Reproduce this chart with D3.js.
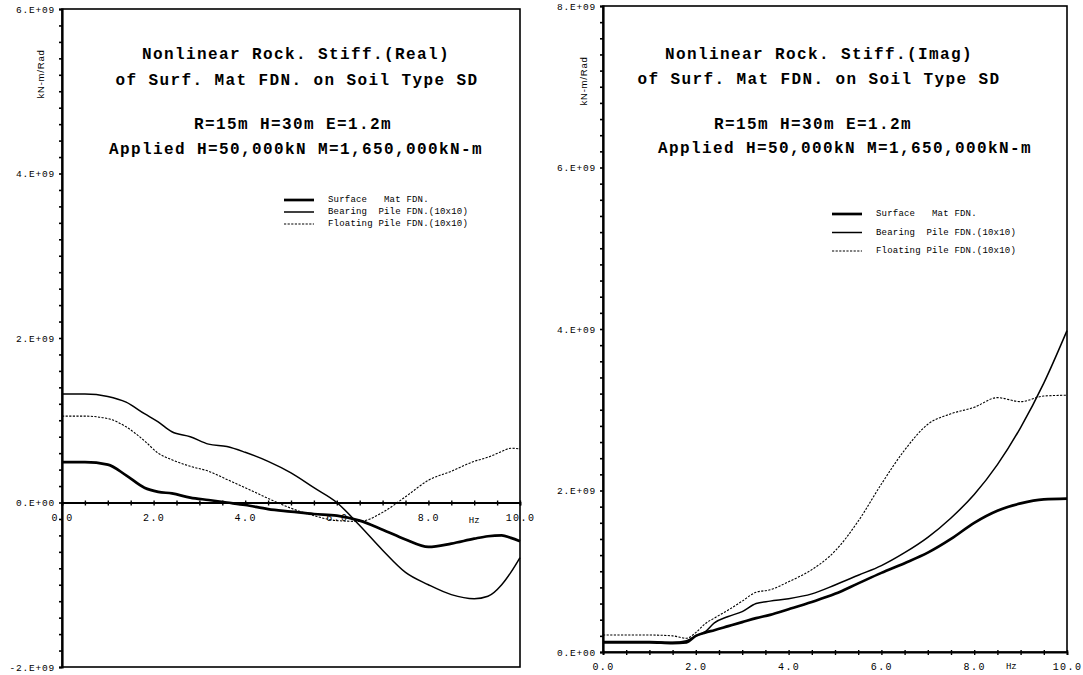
<!DOCTYPE html>
<html>
<head>
<meta charset="utf-8">
<script src="https://cdn.jsdelivr.net/npm/d3@7"></script>
<style>
  html, body { margin: 0; padding: 0; background: #fff; }
  svg { display: block; }
  text { white-space: pre; }
</style>
</head>
<body>
<svg id="chart" width="1083" height="675"></svg>
<script>
// Frequency grids (Hz)
const freqReal = [0, 0.5, 1.0, 1.4, 1.8, 2.1, 2.4, 2.8, 3.2, 3.6, 4.0, 4.5, 5.0, 5.5, 6.0, 6.5, 7.0, 7.5, 8.0, 8.5, 9.0, 9.3, 9.6, 9.8, 10.0];
const freqImag = [0, 0.5, 1.0, 1.5, 1.8, 2.0, 2.2, 2.4, 2.7, 3.0, 3.3, 3.6, 4.0, 4.5, 5.0, 5.5, 6.0, 6.5, 7.0, 7.5, 8.0, 8.5, 9.0, 9.5, 10.0];

// Rocking stiffness, real part (x1e9 kN-m/Rad)
const realSurface  = [0.49, 0.49, 0.46, 0.33, 0.18, 0.13, 0.11, 0.06, 0.03, 0.00, -0.03, -0.08, -0.11, -0.14, -0.16, -0.22, -0.33, -0.45, -0.54, -0.50, -0.44, -0.41, -0.40, -0.43, -0.47];
const realBearing  = [1.32, 1.32, 1.29, 1.22, 1.08, 0.98, 0.86, 0.80, 0.71, 0.68, 0.61, 0.50, 0.36, 0.18, 0.00, -0.28, -0.58, -0.85, -1.00, -1.12, -1.17, -1.14, -1.00, -0.85, -0.67];
const realFloating = [1.05, 1.05, 1.02, 0.92, 0.75, 0.60, 0.52, 0.44, 0.38, 0.28, 0.18, 0.05, -0.07, -0.16, -0.22, -0.23, -0.12, 0.07, 0.27, 0.38, 0.50, 0.55, 0.62, 0.66, 0.65];

// Rocking stiffness, imaginary part (x1e9 kN-m/Rad)
const imagSurface  = [0.12, 0.12, 0.12, 0.11, 0.12, 0.20, 0.24, 0.27, 0.32, 0.37, 0.42, 0.46, 0.53, 0.62, 0.72, 0.85, 0.98, 1.10, 1.23, 1.40, 1.60, 1.75, 1.84, 1.89, 1.90];
const imagBearing  = [0.13, 0.13, 0.13, 0.12, 0.14, 0.20, 0.25, 0.36, 0.44, 0.50, 0.60, 0.63, 0.66, 0.72, 0.83, 0.95, 1.07, 1.23, 1.42, 1.66, 1.95, 2.32, 2.78, 3.33, 3.98];
const imagFloating = [0.21, 0.21, 0.21, 0.20, 0.17, 0.24, 0.35, 0.42, 0.52, 0.63, 0.74, 0.77, 0.87, 1.02, 1.25, 1.62, 2.08, 2.50, 2.82, 2.95, 3.03, 3.15, 3.10, 3.17, 3.18];

const legendLabels = ["Surface   Mat FDN.", "Bearing  Pile FDN.(10x10)", "Floating Pile FDN.(10x10)"];
const titleReal = ["Nonlinear Rock. Stiff.(Real)", "of Surf. Mat FDN. on Soil Type SD", "R=15m H=30m E=1.2m", "Applied H=50,000kN M=1,650,000kN-m"];
const titleImag = ["Nonlinear Rock. Stiff.(Imag)", "of Surf. Mat FDN. on Soil Type SD", "R=15m H=30m E=1.2m", "Applied H=50,000kN M=1,650,000kN-m"];
const xTickLabels = [0, 2, 4, 6, 8, 10];

const E9 = 1e9;
const svg = d3.select("#chart");
const MONO = "'Liberation Mono', 'DejaVu Sans Mono', monospace";

// Series line styles
const styles = [
  { width: 2.7, dash: null },
  { width: 1.5, dash: null },
  { width: 1.1, dash: "2.2,1.4" }
];

function sciLabel(v) {
  if (v === 0) return "0.E+00";
  const m = v / E9;
  return (m < 0 ? "-" : "") + Math.abs(m) + ".E+09";
}

function drawPanel(cfg) {
  const g = svg.append("g");
  const x = d3.scaleLinear().domain([0, 10]).range([cfg.x0, cfg.x1]);
  const y = d3.scaleLinear().domain(cfg.yDomain).range([cfg.yBot, cfg.yTop]);

  // frame
  g.append("rect")
    .attr("x", cfg.x0).attr("y", cfg.yTop)
    .attr("width", cfg.x1 - cfg.x0).attr("height", cfg.yBot - cfg.yTop)
    .attr("fill", "none").attr("stroke", "#000").attr("stroke-width", 1.6);

  // y axis with minor ticks every 0.2e9
  const yTicks = d3.range(cfg.yDomain[0], cfg.yDomain[1] + 1, 0.2 * E9);
  const yAxis = d3.axisLeft(y)
    .tickValues(yTicks)
    .tickSize(3)
    .tickPadding(4)
    .tickFormat(v => (Math.abs(Math.round(v / E9) * E9 - v) < 1e6 && Math.round(v / E9) % 2 === 0) ? sciLabel(Math.round(v / E9) * E9) : "");
  const ya = g.append("g").attr("transform", `translate(${cfg.x0},0)`).call(yAxis);
  ya.select(".domain").attr("stroke-width", 2.2);
  ya.selectAll(".tick line").attr("stroke-width", 1.6);
  ya.selectAll("text")
    .attr("font-family", MONO).attr("font-size", 9.5)
    .attr("letter-spacing", 0.8).attr("fill", "#000");

  // y unit label
  g.append("text")
    .attr("transform", `translate(${cfg.unitX},${cfg.unitY}) rotate(-90)`)
    .attr("text-anchor", "middle").attr("dominant-baseline", "central")
    .attr("font-family", "'Liberation Sans', Arial, sans-serif").attr("font-size", 9.5)
    .attr("letter-spacing", 0.8)
    .text("kN-m/Rad");

  // x axis
  const xAxisY = y(0);
  const xAxis = d3.axisBottom(x)
    .tickValues(d3.range(0, 10.01, 0.5))
    .tickSize(3)
    .tickPadding(cfg.xLabelPad)
    .tickFormat(v => xTickLabels.includes(v) ? v.toFixed(1) : "");
  const xa = g.append("g").attr("transform", `translate(0,${xAxisY})`).call(xAxis);
  xa.select(".domain").attr("stroke-width", 1.8);
  xa.selectAll(".tick line").attr("stroke-width", 1.4).attr("y1", -2);
  xa.selectAll("text")
    .attr("font-family", MONO).attr("font-size", 10)
    .attr("letter-spacing", 1.4).attr("fill", "#000");

  g.append("text")
    .attr("x", x(cfg.hzAt)).attr("y", xAxisY + 3 + cfg.xLabelPad + cfg.hzDrop)
    .attr("dy", "0.71em")
    .attr("text-anchor", "middle")
    .attr("font-family", MONO).attr("font-size", 9)
    .text("Hz");

  // curves
  const line = d3.line()
    .x(d => x(d[0]))
    .y(d => y(d[1] * E9))
    .curve(d3.curveMonotoneX);
  cfg.series.forEach((vals, i) => {
    const pts = cfg.freq.map((f, k) => [f, vals[k]]);
    g.append("path")
      .datum(pts)
      .attr("d", line)
      .attr("fill", "none")
      .attr("stroke", "#000")
      .attr("stroke-width", styles[i].width)
      .attr("stroke-dasharray", styles[i].dash)
      .attr("stroke-linejoin", "round");
  });

  // title block
  cfg.title.forEach((t, i) => {
    g.append("text")
      .attr("x", cfg.titleX[i]).attr("y", cfg.titleY[i])
      .attr("text-anchor", "middle").attr("dominant-baseline", "central")
      .attr("font-family", MONO).attr("font-weight", "bold")
      .attr("font-size", 16).attr("letter-spacing", 1.4)
      .text(t);
  });

  // legend
  legendLabels.forEach((lab, i) => {
    const ly = cfg.legY + i * cfg.legStep;
    g.append("line")
      .attr("x1", cfg.legX).attr("x2", cfg.legX + 30)
      .attr("y1", ly).attr("y2", ly)
      .attr("stroke", "#000")
      .attr("stroke-width", styles[i].width)
      .attr("stroke-dasharray", styles[i].dash);
    g.append("text")
      .attr("x", cfg.legX + 44).attr("y", ly)
      .attr("dominant-baseline", "central")
      .attr("font-family", MONO).attr("font-size", 9)
      .attr("letter-spacing", 0.2)
      .text(lab);
  });
}

drawPanel({
  x0: 62, x1: 520, yTop: 9, yBot: 667,
  yDomain: [-2 * E9, 6 * E9],
  unitX: 40, unitY: 74,
  xLabelPad: 8, hzAt: 9.0, hzDrop: 3,
  freq: freqReal,
  series: [realSurface, realBearing, realFloating],
  title: titleReal,
  titleX: [296, 297, 293, 296],
  titleY: [55, 81, 125, 150],
  legX: 284, legY: 200, legStep: 12
});

drawPanel({
  x0: 603, x1: 1067, yTop: 6, yBot: 652,
  yDomain: [0, 8 * E9],
  unitX: 583, unitY: 81,
  xLabelPad: 8, hzAt: 8.8, hzDrop: 0,
  freq: freqImag,
  series: [imagSurface, imagBearing, imagFloating],
  title: titleImag,
  titleX: [819, 819, 813, 845],
  titleY: [55, 80, 125, 149],
  legX: 832, legY: 214, legStep: 18.5
});
</script>
</body>
</html>
